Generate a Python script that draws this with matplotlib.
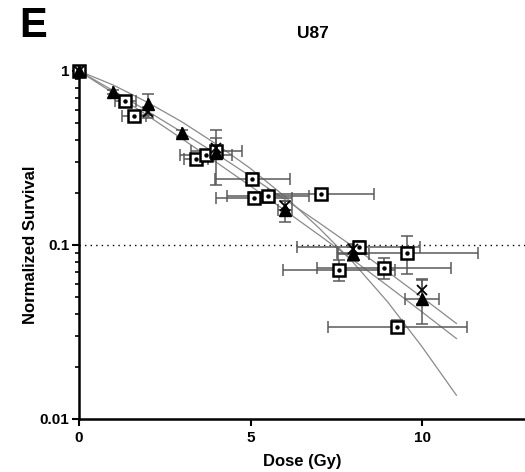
import matplotlib
matplotlib.use("Agg")
import matplotlib.pyplot as plt
from matplotlib.ticker import LogLocator, NullFormatter, FixedLocator, FixedFormatter

plt.rcParams['font.family'] = ['Liberation Sans', 'DejaVu Sans']
plt.rcParams['font.weight'] = 'bold'

LINE_GREY = "#8a8a8a"
ERR_GREY = "#5a5a5a"

# squares (open, dotted centre)
sq_dose = [0, 1.35, 1.6, 3.4, 3.7, 4.0, 5.05, 5.1, 5.5, 7.05, 7.57, 8.15, 8.9, 9.57, 9.28]
sq_surv = [1.0, 0.67, 0.55, 0.31, 0.33, 0.345, 0.24, 0.186, 0.19, 0.197, 0.072, 0.097, 0.074, 0.090, 0.034]
sq_xerr = [0, 0.3, 0.35, 0.35, 0.75, 0.75, 1.1, 1.1, 1.2, 1.55, 1.63, 1.8, 1.95, 2.05, 2.03]
sq_yerr = [0, 0.03, 0.03, 0.02, 0.02, 0.02, 0.02, 0.015, 0.015, 0.01, 0.01, 0.008, 0.01, 0.022, 0.003]

# filled triangles
tri_dose = [0, 1, 2, 3, 4, 6, 8, 10]
tri_surv = [1.0, 0.76, 0.65, 0.44, 0.34, 0.158, 0.089, 0.049]
tri_yerr = [0, 0.02, 0.09, 0.02, 0.12, 0.022, 0.008, 0.014]
tri_xerr = [0, 0, 0, 0, 0, 0.2, 0.46, 0.5]

# second triangle-group (crossed markers)
x_dose = [0, 2, 4, 6, 8, 10]
x_surv = [1.0, 0.58, 0.36, 0.168, 0.095, 0.055]
x_yerr = [0, 0.04, 0.05, 0.01, 0.006, 0.009]

# fitted curves read at each Gy
fit_dose = [0, 1, 2, 3, 4, 5, 6, 7, 8, 9, 10, 11]
fit_a = [1.0, 0.77, 0.587, 0.445, 0.334, 0.248, 0.183, 0.134, 0.0975, 0.0702, 0.050, 0.0354]
fit_b = [1.0, 0.746, 0.554, 0.408, 0.299, 0.218, 0.158, 0.114, 0.0817, 0.0582, 0.0412, 0.029]
fit_c = [1.0, 0.83, 0.66, 0.51, 0.38, 0.275, 0.19, 0.125, 0.079, 0.047, 0.026, 0.0137]


def main():
    fig = plt.figure(figsize=(5.25, 4.72), dpi=100)
    ax = fig.add_axes([0.1505, 0.1123, 0.8495, 0.7373])
    ax.set_yscale('log')
    ax.set_xlim(0, 13); ax.set_ylim(0.01, 1)

    for f in (fit_a, fit_b, fit_c):
        ax.plot(fit_dose, f, color=LINE_GREY, lw=0.9, zorder=2, clip_on=False)
    ax.axhline(0.1, color='black', lw=1.0, ls=(0, (1, 3)), zorder=1)

    ax.errorbar(sq_dose, sq_surv, xerr=sq_xerr, yerr=sq_yerr, fmt='none', ecolor=ERR_GREY,
                elinewidth=1.1, capsize=4, capthick=1.1, zorder=3, clip_on=False)
    ax.errorbar(tri_dose, tri_surv, xerr=tri_xerr, yerr=tri_yerr, fmt='none', ecolor=ERR_GREY,
                elinewidth=1.1, capsize=4, capthick=1.1, zorder=3, clip_on=False)
    ax.errorbar(x_dose, x_surv, yerr=x_yerr, fmt='none', ecolor=ERR_GREY,
                elinewidth=1.1, capsize=4, capthick=1.1, zorder=3, clip_on=False)

    ax.plot(sq_dose, sq_surv, ls='none', marker='s', ms=9, mfc='white', mec='black', mew=1.8, zorder=4, clip_on=False)
    ax.plot(sq_dose, sq_surv, ls='none', marker='o', ms=2.2, color='black', zorder=5, clip_on=False)
    ax.plot(x_dose, x_surv, ls='none', marker='x', ms=7, mec='black', mew=1.3, zorder=5, clip_on=False)
    ax.plot(tri_dose, tri_surv, ls='none', marker='^', ms=8.5, color='black', zorder=6, clip_on=False)

    for s in ('top', 'right'):
        ax.spines[s].set_visible(False)
    for s in ('left', 'bottom'):
        ax.spines[s].set_linewidth(1.8)
    ax.yaxis.set_major_locator(FixedLocator([0.01, 0.1, 1]))
    ax.yaxis.set_major_formatter(FixedFormatter(['0.01', '0.1', '1']))
    ax.yaxis.set_minor_locator(LogLocator(base=10, subs=range(2, 10)))
    ax.yaxis.set_minor_formatter(NullFormatter())
    ax.set_xticks([0, 5, 10])
    ax.tick_params(axis='both', which='major', direction='out', length=5, width=1.5, labelsize=11)
    ax.tick_params(axis='y', which='minor', direction='out', length=3, width=1.2)
    ax.tick_params(axis='x', pad=4)
    ax.tick_params(axis='y', pad=2)
    for lab in ax.get_xticklabels() + ax.get_yticklabels():
        lab.set_fontweight('bold')

    ax.set_xlabel('Dose (Gy)', fontsize=12, fontweight='bold', labelpad=6)
    ax.set_ylabel('Normalized Survival', fontsize=12, fontweight='bold', labelpad=1)
    fig.text(313 / 525, 1 - 33 / 472, 'U87', ha='center', va='center', fontsize=12.5, fontweight='bold')
    fig.text(33 / 525, 1 - 26 / 472, 'E', ha='center', va='center', fontsize=30, fontweight='bold')

    plt.savefig('out.png', dpi=100)
    plt.close()


if __name__ == '__main__': main()
